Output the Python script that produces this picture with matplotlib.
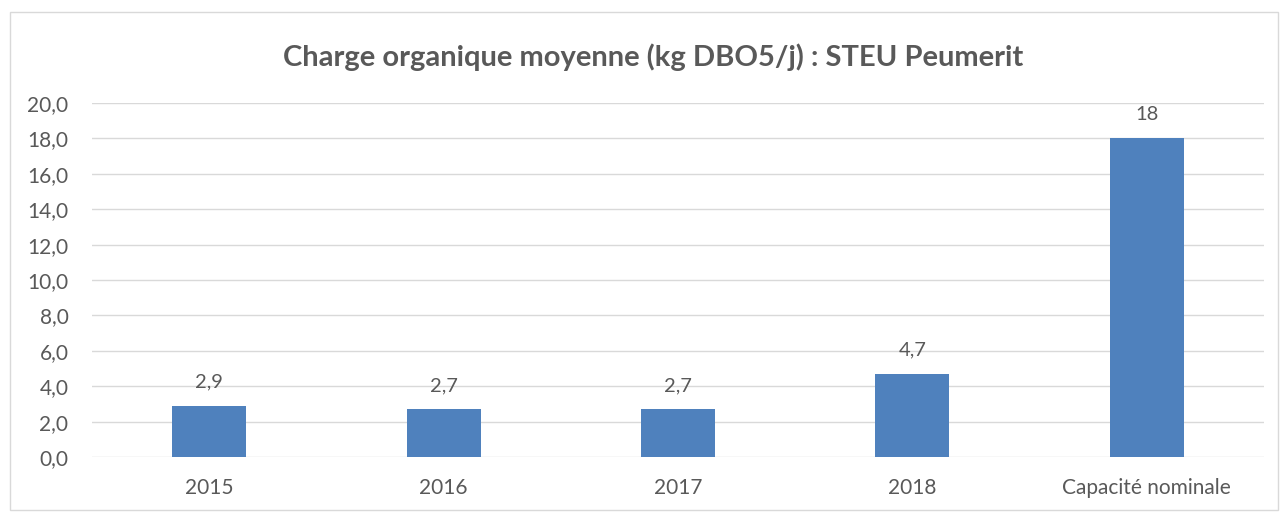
import matplotlib
matplotlib.use("Agg")
import matplotlib.pyplot as plt
from matplotlib.patches import Rectangle

categories = ["2015", "2016", "2017", "2018", "Capacité nominale"]
values = [2.9, 2.7, 2.7, 4.7, 18]
labels = ["2,9", "2,7", "2,7", "4,7", "18"]
yticks = [0, 2, 4, 6, 8, 10, 12, 14, 16, 18, 20]
title = "Charge organique moyenne (kg DBO5/j) : STEU Peumerit"

plt.rcParams['font.family'] = ['Lato', 'DejaVu Sans']
txt = "#595959"

fig = plt.figure(figsize=(12.81, 5.13), dpi=100)
fig.patches.append(Rectangle((10/1281, 3/513), 1268/1281, 498/513, transform=fig.transFigure,
                             fill=False, edgecolor="#d9d9d9", linewidth=1))
ax = fig.add_axes([92/1281, 1-457/513, 1172/1281, 354/513])
x = range(len(categories))
ax.bar(x, values, width=0.315, color="#4f81bd", zorder=3)
ax.set_xlim(-0.5, len(categories)-0.5)
ax.set_ylim(0, 20)
ax.set_yticks(yticks)
ax.set_yticklabels([f"{v:.1f}".replace(".", ",") for v in yticks], color=txt, fontsize=15)
ax.set_xticks(list(x))
ax.set_xticklabels(categories, color=txt, fontsize=15)
ax.tick_params(axis='both', length=0)
ax.tick_params(axis='y', pad=17)
ax.tick_params(axis='x', pad=15)
ax.grid(axis='y', color="#d9d9d9", linewidth=1, zorder=0)
for s in ax.spines.values():
    s.set_visible(False)
for xi, v, l in zip(x, values, labels):
    ax.annotate(l, (xi, v), xytext=(0, 17), textcoords="offset points",
                ha="center", va="center", color=txt, fontsize=14.5)
fig.text(653/1281, 1-57/513, title, ha="center", va="center", color=txt,
         fontsize=21, fontweight="bold")
fig.savefig("out.png", dpi=100)
